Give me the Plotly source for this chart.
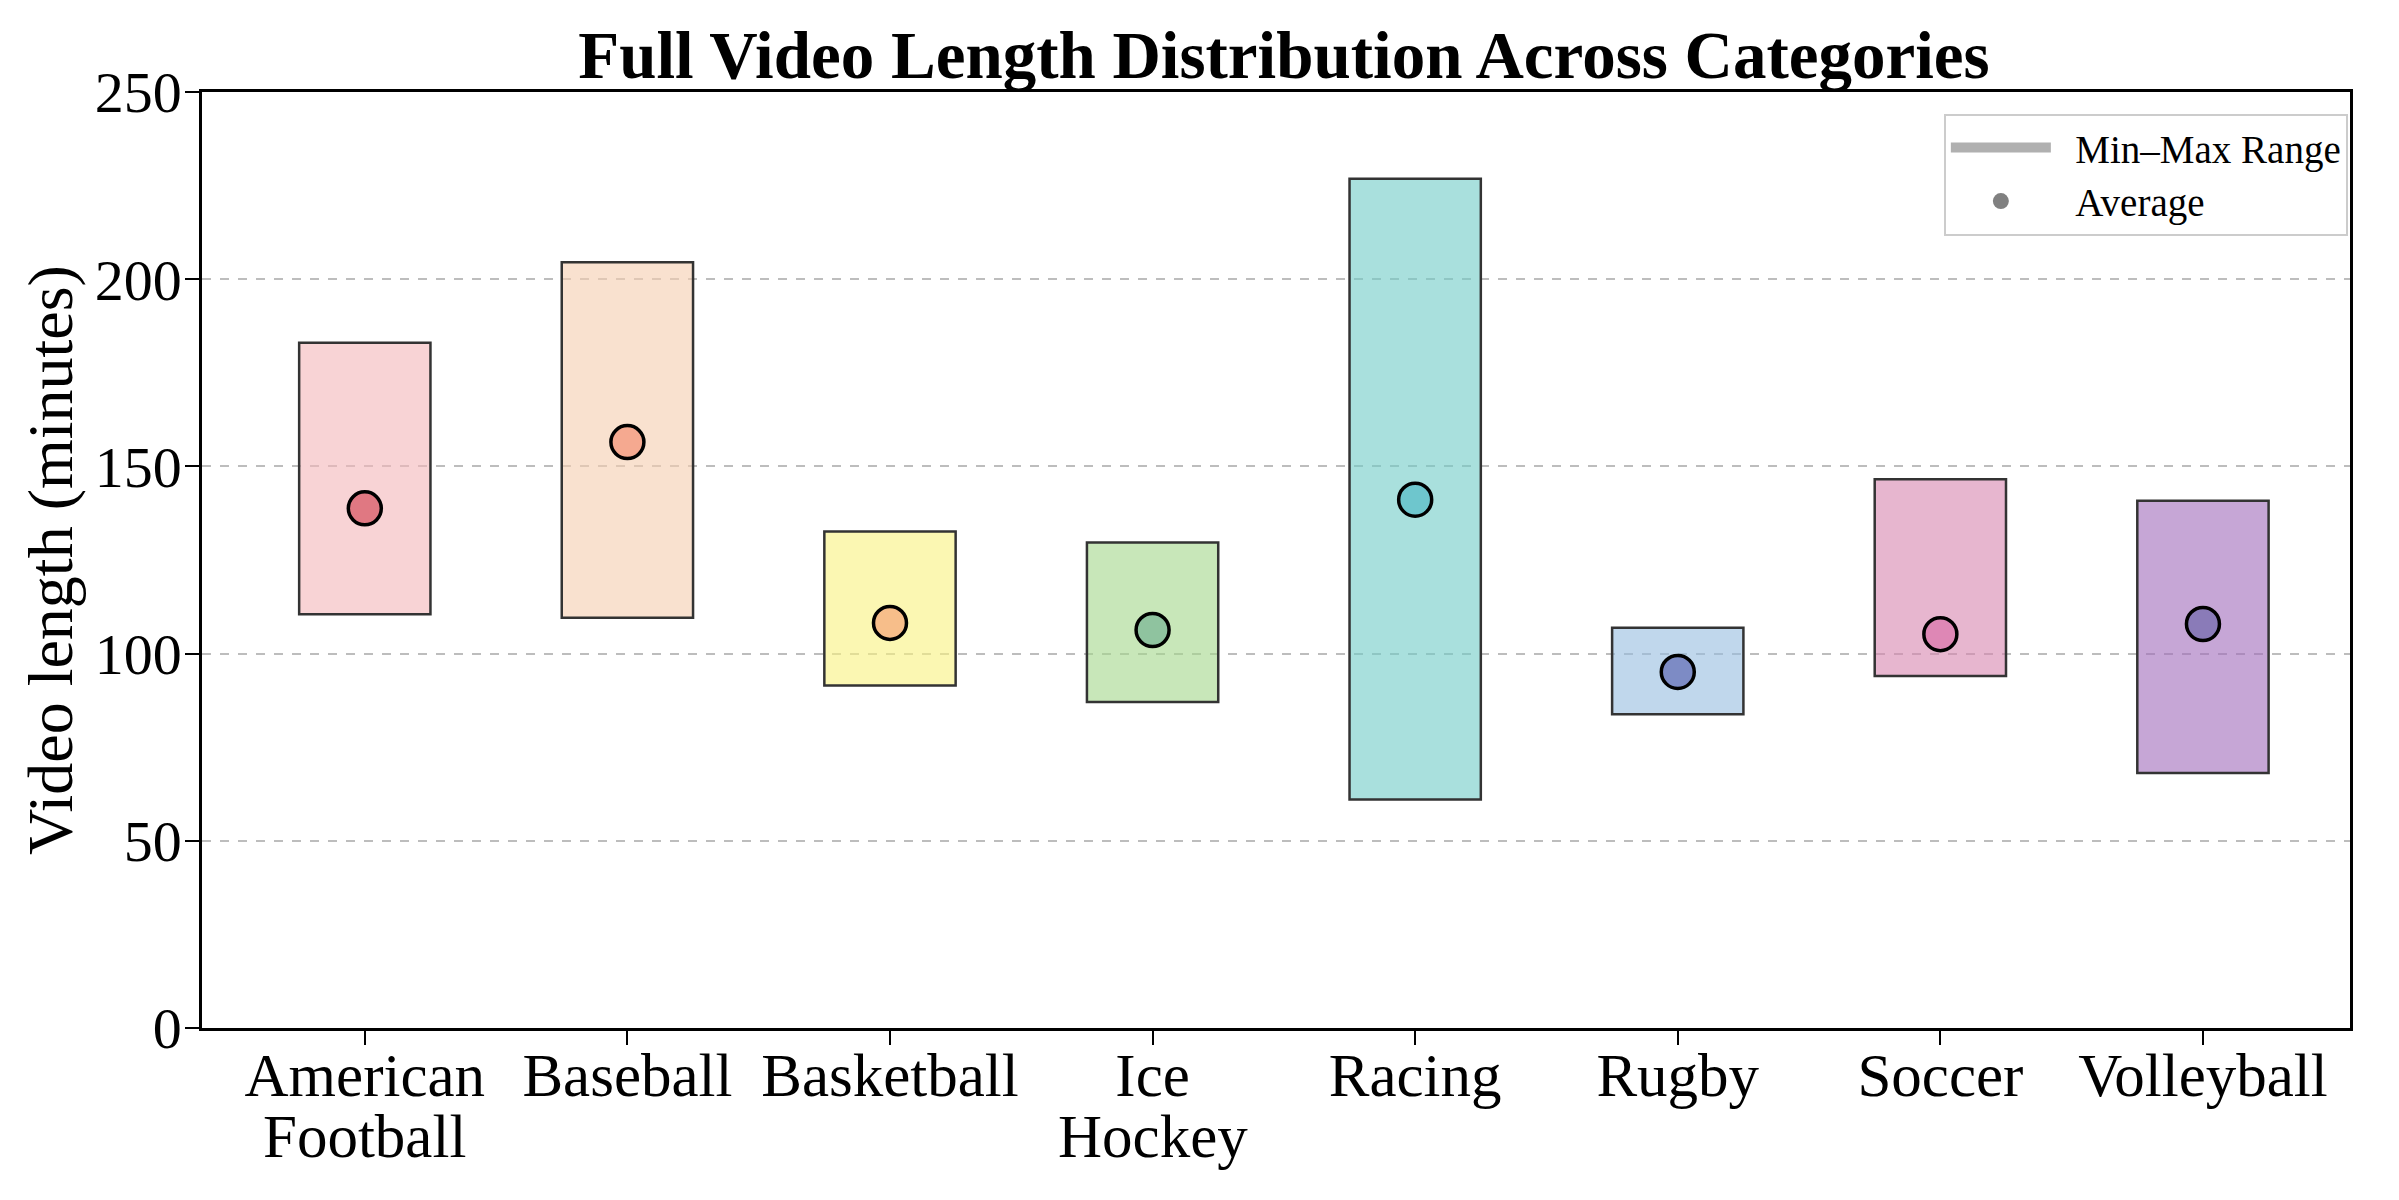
import plotly.graph_objects as go

categories = ["American Football", "Baseball", "Basketball", "Ice Hockey",
              "Racing", "Rugby", "Soccer", "Volleyball"]
tick_line1 = ["American", "Baseball", "Basketball", "Ice",
              "Racing", "Rugby", "Soccer", "Volleyball"]
tick_line2 = ["Football", "", "", "Hockey", "", "", "", ""]
min_len = [110.5, 109.6, 91.5, 87.1, 61.0, 83.8, 94.0, 68.1]
max_len = [183.0, 204.5, 132.6, 129.7, 226.8, 106.9, 146.6, 140.8]
avg_len = [138.8, 156.5, 108.2, 106.3, 141.1, 95.1, 105.2, 107.9]

bar_colors = ["rgba(243,182,185,0.6)", "rgba(245,205,175,0.6)", "rgba(248,242,127,0.6)",
              "rgba(163,215,138,0.6)", "rgba(112,203,198,0.6)", "rgba(150,188,223,0.6)",
              "rgba(215,133,175,0.6)", "rgba(160,107,187,0.6)"]
dot_colors = ["#E07882", "#F5A990", "#F7BE8A", "#8FC39F", "#6EC6CD", "#7D8BC5", "#DE87B5", "#8A7BB8"]

FONT = "Liberation Serif, Times New Roman, serif"

fig = go.Figure()
fig.add_trace(go.Bar(
    x=categories,
    y=[mx - mn for mx, mn in zip(max_len, min_len)],
    base=min_len,
    width=0.5,
    marker=dict(color=bar_colors, line=dict(color="#333333", width=2.5)),
    showlegend=False,
))
fig.add_trace(go.Scatter(
    x=categories, y=avg_len, mode="markers",
    marker=dict(size=33, color=dot_colors, line=dict(color="black", width=3.5)),
    showlegend=False,
))
# legend proxies
fig.add_trace(go.Scatter(x=[None], y=[None], mode="lines", name="\u00a0\u00a0Min\u2013Max Range",
                         line=dict(color="#B0B0B0", width=24)))
fig.add_trace(go.Scatter(x=[None], y=[None], mode="markers", name="\u00a0\u00a0Average",
                         marker=dict(size=24, color="#808080")))

# second line of the two-line category labels
for cat, txt in zip(categories, tick_line2):
    if txt:
        fig.add_annotation(x=cat, xref="x", y=0, yref="paper", yshift=-108,
                           yanchor="middle", xanchor="center", showarrow=False,
                           text=txt, font=dict(size=61, family=FONT, color="black"))

fig.update_layout(
    width=2399, height=1200,
    margin=dict(l=202, r=49, t=92, b=172),
    plot_bgcolor="white", paper_bgcolor="white",
    font=dict(family=FONT, color="black"),
    title=dict(text="<b>Full Video Length Distribution Across Categories</b>",
               font=dict(size=67, family=FONT, color="black"),
               x=0.5037, xref="paper", xanchor="center",
               y=1, yref="paper", yanchor="bottom", pad=dict(b=14)),
    legend=dict(x=0.999, xanchor="right", y=0.977, yanchor="top",
                bordercolor="#CCCCCC", borderwidth=2, bgcolor="white",
                font=dict(size=39, family=FONT), itemsizing="trace",
                itemwidth=100, tracegroupgap=0),
    barmode="overlay",
)
fig.update_xaxes(
    range=[-0.62, 7.56], tickvals=categories, ticktext=tick_line1,
    tickfont=dict(size=61, family=FONT), automargin=False,
    showline=True, linecolor="black", linewidth=2.5, mirror=True,
    ticks="outside", ticklen=14, tickwidth=2, tickcolor="black",
    ticklabelstandoff=-22,
    showgrid=False, zeroline=False,
)
fig.update_yaxes(
    range=[0, 250], tickvals=[0, 50, 100, 150, 200, 250],
    tickfont=dict(size=58, family=FONT), automargin=False,
    title=dict(text="Video length (minutes)", font=dict(size=64, family=FONT), standoff=2),
    showline=True, linecolor="black", linewidth=2.5, mirror=True,
    ticks="outside", ticklen=14, tickwidth=2, tickcolor="black",
    ticklabelstandoff=-8,
    showgrid=True, gridcolor="#BDBDBD", gridwidth=2, griddash="dash",
    zeroline=False,
)

fig.write_html("out.html")
